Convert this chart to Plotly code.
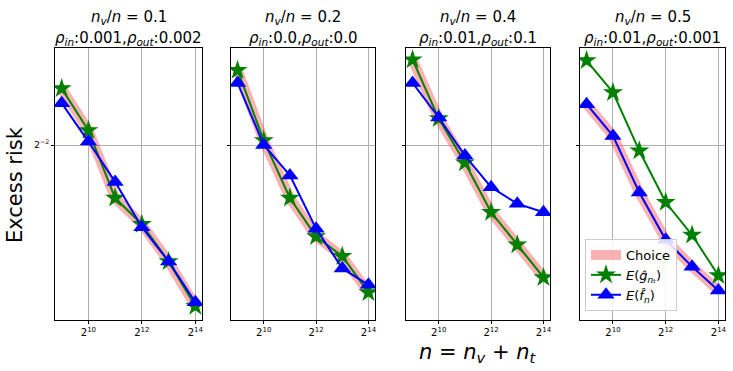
import plotly.graph_objects as go
from plotly.subplots import make_subplots

# sample sizes n = 2^9 .. 2^14
n = [512, 1024, 2048, 4096, 8192, 16384]

ratio_titles = ["0.1", "0.2", "0.4", "0.5"]
rho_in = ["0.001", "0.0", "0.01", "0.01"]
rho_out = ["0.002", "0.0", "0.1", "0.001"]

# E(g_hat) - green stars
g_hat = [
    [0.304, 0.263, 0.208, 0.190, 0.167, 0.143],
    [0.324, 0.254, 0.208, 0.182, 0.170, 0.150],
    [0.336, 0.274, 0.235, 0.198, 0.177, 0.158],
    [0.335, 0.300, 0.245, 0.205, 0.183, 0.159],
]
# E(f_hat) - blue triangles
f_hat = [
    [0.289, 0.253, 0.220, 0.188, 0.167, 0.145],
    [0.310, 0.250, 0.225, 0.187, 0.163, 0.154],
    [0.310, 0.275, 0.241, 0.216, 0.204, 0.198],
    [0.288, 0.258, 0.212, 0.180, 0.164, 0.151],
]
# selected model
choice = [g_hat[0], g_hat[1], g_hat[2], f_hat[3]]

W, H = 733, 371
xdom = [(55, 202), (231, 375), (406, 550), (580, 725)]
ytop, ybot = 48, 320


def px_x(p):
    return p / W


def px_y(p):
    return 1 - p / H


fig = make_subplots(1, 4, shared_yaxes=True)

for i in range(4):
    show = i == 3
    fig.add_trace(go.Scatter(x=n, y=choice[i], mode="lines", name="Choice",
                             line=dict(color="rgba(240,60,60,0.4)", width=10),
                             showlegend=show), 1, i + 1)
    fig.add_trace(go.Scatter(x=n, y=g_hat[i], mode="lines+markers",
                             name="<i>E</i>(<i>ĝ</i><sub><i>nₜ</i></sub>)",
                             line=dict(color="green", width=2),
                             marker=dict(symbol="star", size=15, color="green"),
                             showlegend=show), 1, i + 1)
    fig.add_trace(go.Scatter(x=n, y=f_hat[i], mode="lines+markers",
                             name="<i>E</i>(<i>f̂</i><sub><i>n</i></sub>)",
                             line=dict(color="blue", width=2),
                             marker=dict(symbol="triangle-up", size=15, color="blue"),
                             showlegend=show), 1, i + 1)

    x0, x1 = xdom[i]
    ax = "xaxis" if i == 0 else f"xaxis{i+1}"
    ay = "yaxis" if i == 0 else f"yaxis{i+1}"
    fig.layout[ax].update(domain=[px_x(x0), px_x(x1)])
    fig.layout[ay].update(domain=[px_y(ybot), px_y(ytop)])
    cx = px_x((x0 + x1) / 2)
    fig.add_annotation(text=f"<i>n<sub>v</sub></i>/<i>n</i> = {ratio_titles[i]}",
                       x=cx, y=px_y(17), xref="paper", yref="paper",
                       xanchor="center", yanchor="middle",
                       showarrow=False, font=dict(size=15, color="black"))
    fig.add_annotation(text=f"<i>ρ<sub>in</sub></i>:{rho_in[i]},<i>ρ<sub>out</sub></i>:{rho_out[i]}",
                       x=cx, y=px_y(38), xref="paper", yref="paper",
                       xanchor="center", yanchor="middle",
                       showarrow=False, font=dict(size=15, color="black"))

fig.update_xaxes(type="log", range=[8.75 * 0.30103, 14.25 * 0.30103],
                 tickvals=[1024, 4096, 16384],
                 ticktext=["2<sup>10</sup>", "2<sup>12</sup>", "2<sup>14</sup>"],
                 tickfont=dict(size=10, color="black"), automargin=False,
                 showgrid=True, gridcolor="#b0b0b0", gridwidth=1,
                 showline=True, linecolor="black", linewidth=1, mirror=True,
                 ticks="outside", ticklen=3, tickcolor="black", zeroline=False)
fig.update_yaxes(type="log", range=[-0.86546, -0.45606],
                 tickvals=[0.25], ticktext=["2<sup>−2</sup>"],
                 tickfont=dict(size=9, color="black"), automargin=False,
                 showgrid=True, gridcolor="#b0b0b0", gridwidth=1,
                 showline=True, linecolor="black", linewidth=1, mirror=True,
                 ticks="outside", ticklen=3, tickcolor="black", zeroline=False)
for i in range(2, 5):
    fig.layout[f"yaxis{i}"].update(showticklabels=False)

fig.add_annotation(text="Excess risk", x=px_x(15), y=px_y(185), xref="paper", yref="paper",
                   xanchor="center", yanchor="middle",
                   textangle=-90, showarrow=False, font=dict(size=21, color="black"))
fig.add_annotation(text="<i>n</i> = <i>n<sub>v</sub></i> + <i>n<sub>t</sub></i>",
                   x=px_x(478), y=px_y(353), xref="paper", yref="paper",
                   xanchor="center", yanchor="middle",
                   showarrow=False, font=dict(size=21, color="black"))

fig.update_layout(
    width=W, height=H, margin=dict(l=0, r=0, t=0, b=0, autoexpand=False),
    plot_bgcolor="white", paper_bgcolor="white",
    font=dict(family="DejaVu Sans", color="black"),
    legend=dict(x=px_x(585), y=px_y(239), xanchor="left", yanchor="top",
                bgcolor="rgba(255,255,255,0.85)", bordercolor="#cccccc", borderwidth=1,
                font=dict(size=13, color="black")),
)

# drop the browser's default body margin so the figure sits at the page corner
fig.write_html("out.html", config={"displayModeBar": False},
               post_script="document.body.style.margin='0';")
